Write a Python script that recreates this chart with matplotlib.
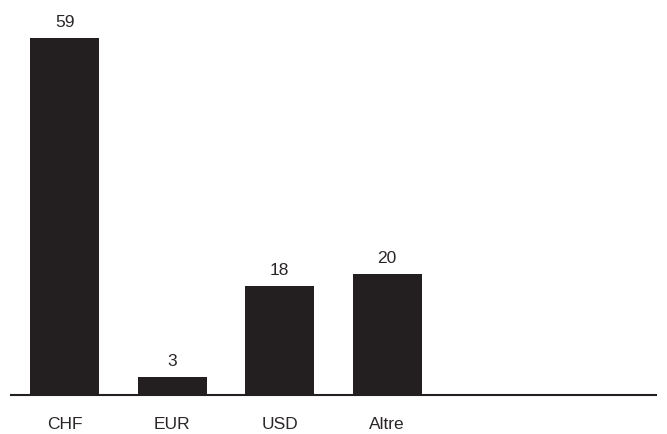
import matplotlib.pyplot as plt

# Data
categories = ['CHF', 'EUR', 'USD', 'Altre']
values = [59, 3, 18, 20]

bar_color = '#231f20'
text_color = '#2a2627'

plt.rcParams['font.family'] = ['Liberation Sans', 'DejaVu Sans']

fig = plt.figure(figsize=(6.67, 4.34), dpi=100)
ax = fig.add_axes([11 / 667, 39 / 434, 645 / 667, 395 / 434])

x = list(range(len(categories)))
bars = ax.bar(x, values, width=0.645, color=bar_color)

for b, v in zip(bars, values):
    ax.annotate(str(v), (b.get_x() + b.get_width() / 2, v),
                xytext=(0, 6), textcoords='offset points',
                ha='center', va='bottom', fontsize=12.5, color=text_color)

ax.set_xlim(-0.5, 5.5)
ax.set_ylim(0, 65.3)
ax.set_xticks(x)
ax.set_xticklabels(categories, fontsize=12.5, color=text_color)
ax.tick_params(axis='x', length=0, pad=16)
ax.set_yticks([])

for s in ['top', 'right', 'left']:
    ax.spines[s].set_visible(False)
ax.spines['bottom'].set_color('#231f20')
ax.spines['bottom'].set_linewidth(1.5)

plt.savefig('out.png', dpi=100)
